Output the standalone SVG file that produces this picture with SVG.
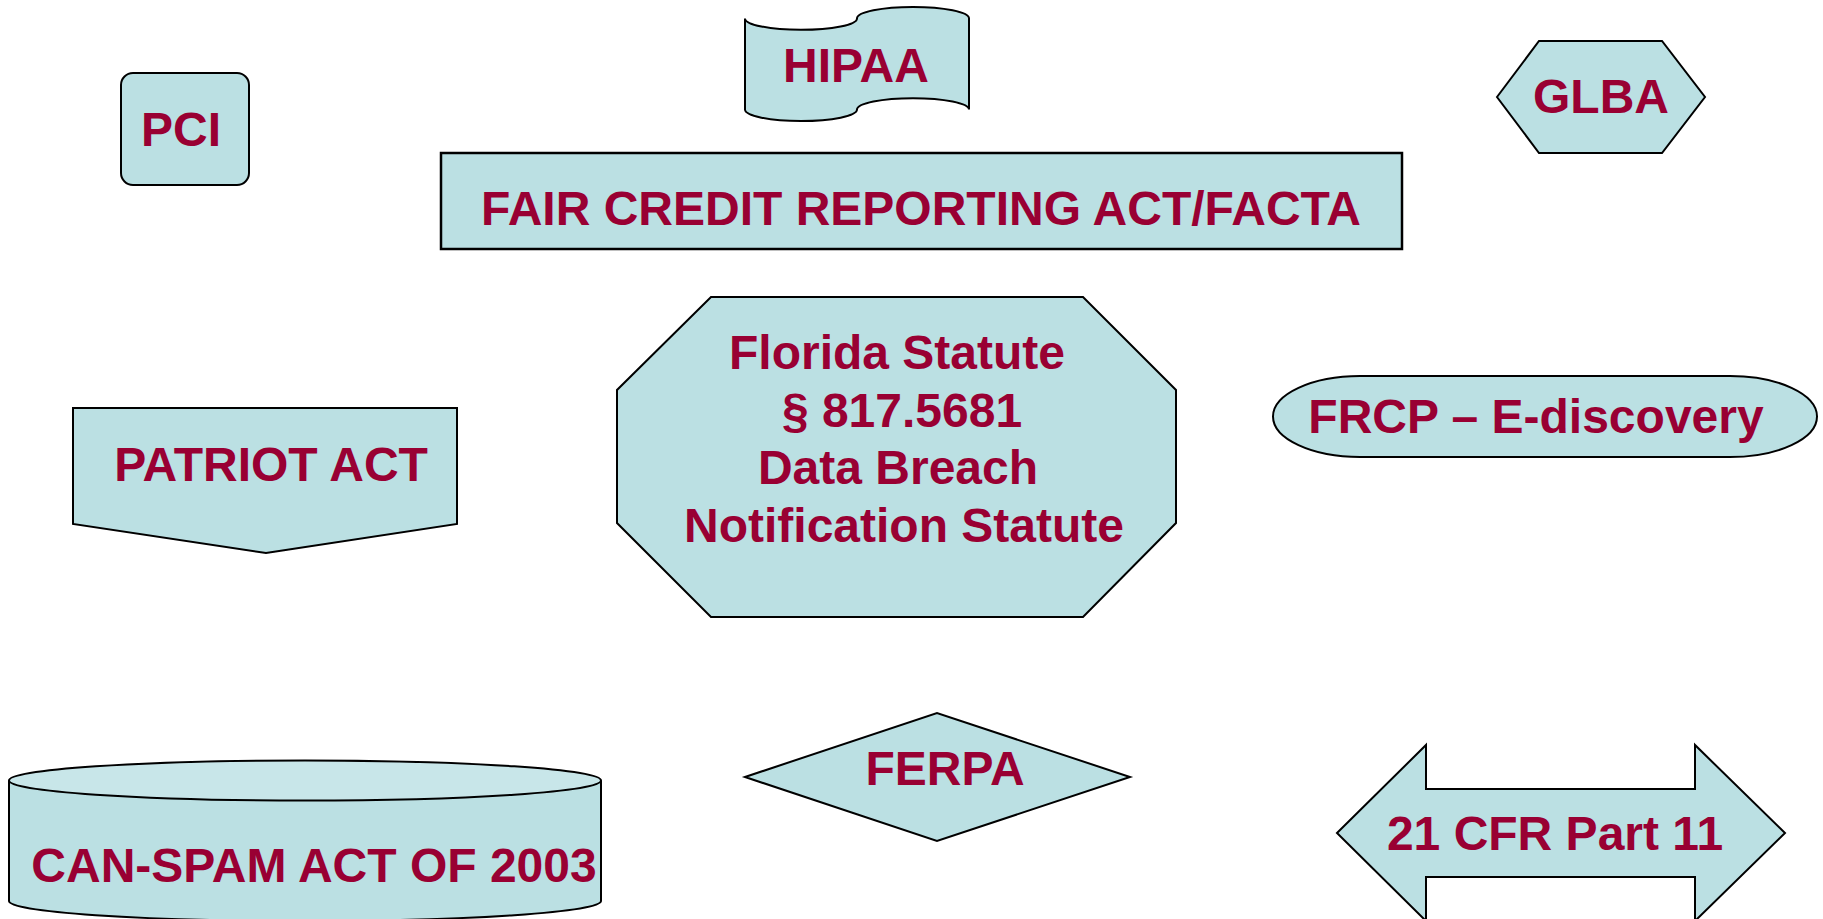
<svg xmlns="http://www.w3.org/2000/svg" width="1823" height="919" viewBox="0 0 1823 919">
<style>
.s{fill:#bbe0e3;stroke:#000;stroke-width:2;stroke-linejoin:miter}
.t{font-family:"Liberation Sans",Arial,sans-serif;font-weight:bold;font-size:48px;fill:#990033;text-anchor:middle}
</style>
<rect width="1823" height="919" fill="#fff"/>
<g id="pci">
<rect class="s" x="121" y="73" width="128" height="112" rx="12" ry="12"/>
<text class="t" x="181" y="146">PCI</text>
</g>
<g id="hipaa">
<path class="s" d="M745,18.4 A56,11.4 0 0 0 857,18.4 A56,11.4 0 0 1 969,18.4 L969,109.6 A56,11.4 0 0 0 857,109.6 A56,11.4 0 0 1 745,109.6 Z"/>
<text class="t" x="856" y="82">HIPAA</text>
</g>
<g id="glba">
<polygon class="s" points="1497,97 1539,41 1662,41 1705,97 1662,153 1539,153"/>
<text class="t" x="1601" y="113">GLBA</text>
</g>
<g id="fcra">
<rect class="s" x="441" y="153" width="961" height="96" style="stroke-width:2.5"/>
<text class="t" x="921" y="225">FAIR CREDIT REPORTING ACT/FACTA</text>
</g>
<g id="patriot">
<polygon class="s" points="73,408 457,408 457,524 266,553 73,524"/>
<text class="t" x="271" y="481">PATRIOT ACT</text>
</g>
<g id="florida">
<polygon class="s" points="711,297 1083,297 1176,390 1176,523 1083,617 711,617 617,523 617,390"/>
<text class="t" x="897" y="369">Florida Statute</text>
<text class="t" x="902" y="427">§ 817.5681</text>
<text class="t" x="898" y="484">Data Breach</text>
<text class="t" x="904" y="542">Notification Statute</text>
</g>
<g id="frcp">
<path class="s" d="M1360,376 H1730 A87,40.5 0 0 1 1730,457 H1360 A87,40.5 0 0 1 1360,376 Z"/>
<text class="t" x="1536" y="433">FRCP – E-discovery</text>
</g>
<g id="canspam">
<path class="s" d="M9,780.5 V901 A296,20 0 0 0 601,901 V780.5"/>
<ellipse cx="305" cy="780.5" rx="296" ry="20" fill="#c8e6e9" stroke="#000" stroke-width="2"/>
<text class="t" x="314" y="882">CAN-SPAM ACT OF 2003</text>
</g>
<g id="ferpa">
<polygon class="s" points="745,777 937,713 1130,777 937,841"/>
<text class="t" x="945" y="785">FERPA</text>
</g>
<g id="cfr">
<path class="s" d="M1337,833 L1426,745 V789 H1695 V745 L1785,833 L1695,921 V877 H1426 V921 Z"/>
<text class="t" x="1555" y="850">21 CFR Part 11</text>
</g>
<g id="connectors"></g>
</svg>
